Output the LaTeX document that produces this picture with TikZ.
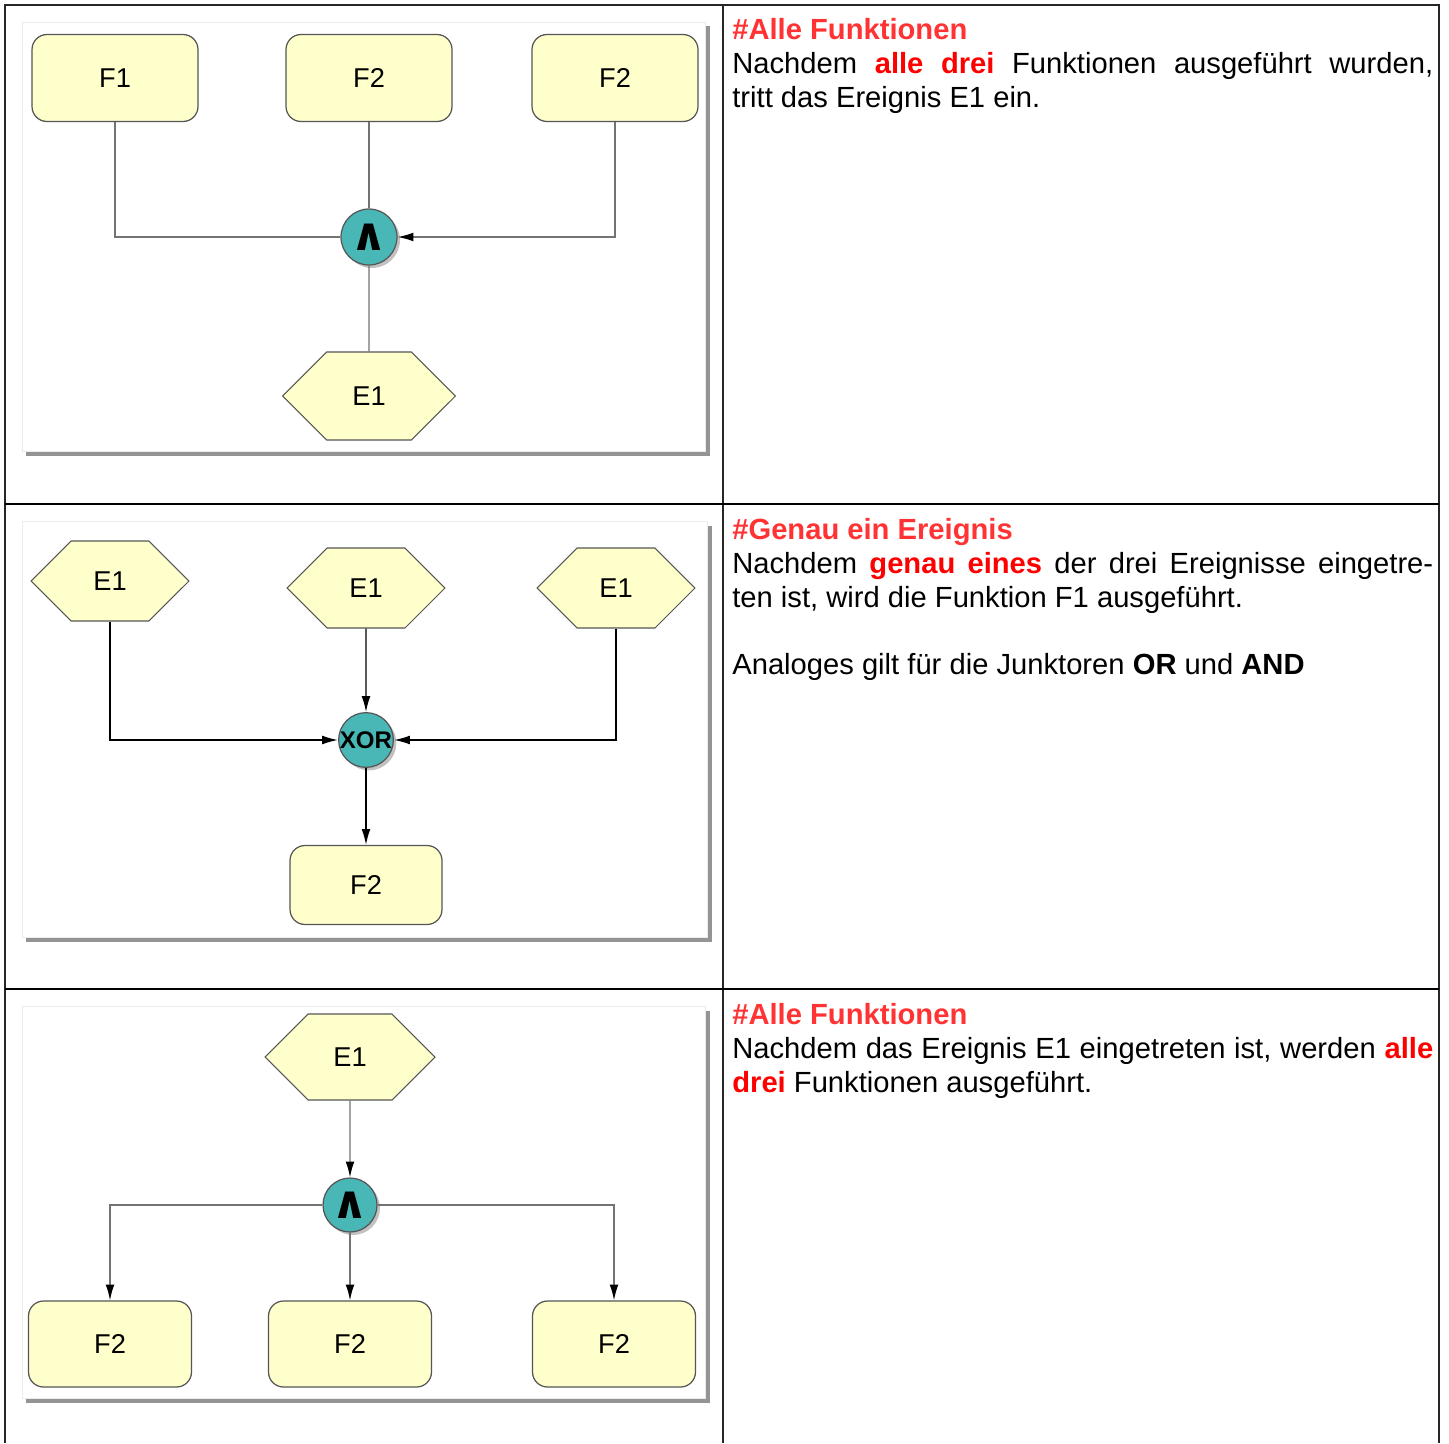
\documentclass[tikz,border=0pt]{standalone}
\usepackage{fontspec}
\setmainfont{Liberation Sans}
\newfontfamily\symfont{DejaVu Sans}
\usepackage{tikz}
\usetikzlibrary{shapes.symbols, shadows, arrows.meta}
\usepackage{xcolor}

\definecolor{fktfill}{HTML}{FFFFCC}
\definecolor{jktfill}{HTML}{4AB7B7}
\definecolor{rand}{HTML}{555555}
\definecolor{hdrred}{HTML}{FF3333}
\definecolor{hotred}{HTML}{FF0000}

\hyphenpenalty=10000

\tikzset{
  panel/.style={fill=white, draw=black!8, drop shadow={shadow xshift=0.09cm, shadow yshift=-0.09cm, fill=black!60, opacity=0.7}},
  fkt/.style={draw=rand, line width=0.7pt, fill=fktfill, rounded corners=0.3cm, minimum width=3.32cm, minimum height=1.74cm, font=\fontsize{15.5}{18}\selectfont},
  ereignis/.style={signal, signal to=west and east, signal pointer angle=90, draw=rand, line width=0.6pt, fill=fktfill, inner sep=0pt, minimum width=3.46cm, minimum height=1.76cm, font=\fontsize{15.5}{18}\selectfont},
  junktor/.style={circle, draw=rand, line width=0.7pt, fill=jktfill, inner sep=0pt, minimum size=1.12cm, drop shadow={shadow xshift=0.06cm, shadow yshift=-0.06cm, fill=black!40, opacity=0.6}},
  conn/.style={draw=black!55, line width=0.8pt},
  arr/.style={conn, -{Latex[length=9pt, width=5pt, color=black]}},
  arrblack/.style={arr, draw=black},
  txt/.style={anchor=base west, inner sep=0pt, text width=14.02cm, align=justify, font=\fontsize{16.6}{19.35}\selectfont}
}

\begin{document}
\begin{tikzpicture}[x=0.02cm, y=-0.02cm]
\useasboundingbox (0,0) rectangle (1449,1443);

% Tabelle
\draw[line width=0.7pt, black!85] (5,1443) -- (5,5) -- (1439,5) -- (1439,1443);
\draw[line width=0.7pt, black!85] (723,5) -- (723,1443);
\draw[line width=0.7pt] (5,504) -- (1439,504);
\draw[line width=0.7pt] (5,989) -- (1439,989);

% Zeile 1
\path[panel] (22,22) rectangle (705,451);
\node[fkt] (f1) at (115,78) {F1};
\node[fkt] (f2) at (369,78) {F2};
\node[fkt] (f3) at (615,78) {F2};
\node[junktor] (und1) at (369,237) {\symfont\bfseries\fontsize{26}{26}\selectfont ∧};
\node[ereignis] (e1) at (369,396) {E1};

\draw[conn] (f1) |- (und1);
\draw[conn] (f2) -- (und1);
\draw[arr] (f3) |- (und1);
\draw[conn] (und1) -- (e1);

\node[txt] (t1) at (732,40) {\textcolor{hdrred}{\textbf{\#Alle Funktionen}}\\
Nachdem \textcolor{hotred}{\textbf{alle drei}} Funktionen ausgeführt wurden,\linebreak tritt das Ereignis E1 ein.};

% Zeile 2
\path[panel] (22,521) rectangle (707,937);
\node[ereignis, minimum width=3.16cm, minimum height=1.6cm] (ea) at (110,581) {E1};
\node[ereignis, minimum width=3.16cm, minimum height=1.6cm] (eb) at (366,588) {E1};
\node[ereignis, minimum width=3.16cm, minimum height=1.6cm] (ec) at (616,588) {E1};
\node[junktor, minimum size=1.02cm] (xor) at (366,740) {\bfseries\fontsize{13.7}{14}\selectfont XOR};
\node[fkt, minimum width=3.04cm, minimum height=1.58cm] (fx) at (366,885) {F2};

\draw[arrblack] (ea) |- (xor);
\draw[arrblack] (eb) -- (xor);
\draw[arrblack] (ec) |- (xor);
\draw[arrblack] (xor) -- (fx);

\node[txt] (t2) at (732,539) {\textcolor{hdrred}{\textbf{\#Genau ein Ereignis}}\\
Nachdem \textcolor{hotred}{\textbf{genau eines}} der drei Ereignisse eingetre-\linebreak ten ist, wird die Funktion F1 ausgeführt.\par\vspace{\baselineskip}
Analoges gilt für die Junktoren \textbf{OR} und \textbf{AND}};

% Zeile 3
\path[panel] (22,1006) rectangle (705,1398);
\node[ereignis, minimum width=3.4cm, minimum height=1.72cm] (e3) at (350,1057) {E1};
\node[junktor, minimum size=1.08cm] (und3) at (350,1205) {\symfont\bfseries\fontsize{26}{26}\selectfont ∧};
\node[fkt, minimum width=3.26cm, minimum height=1.72cm] (g1) at (110,1344) {F2};
\node[fkt, minimum width=3.26cm, minimum height=1.72cm] (g2) at (350,1344) {F2};
\node[fkt, minimum width=3.26cm, minimum height=1.72cm] (g3) at (614,1344) {F2};

\draw[arr] (e3) -- (und3);
\draw[arr] (und3) -| (g1);
\draw[arr] (und3) -- (g2);
\draw[arr] (und3) -| (g3);

\node[txt] (t3) at (732,1024) {\textcolor{hdrred}{\textbf{\#Alle Funktionen}}\\
Nachdem das Ereignis E1 eingetreten ist, werden \textcolor{hotred}{\textbf{alle}}\linebreak \textcolor{hotred}{\textbf{drei}} Funktionen ausgeführt.};
\end{tikzpicture}
\end{document}
